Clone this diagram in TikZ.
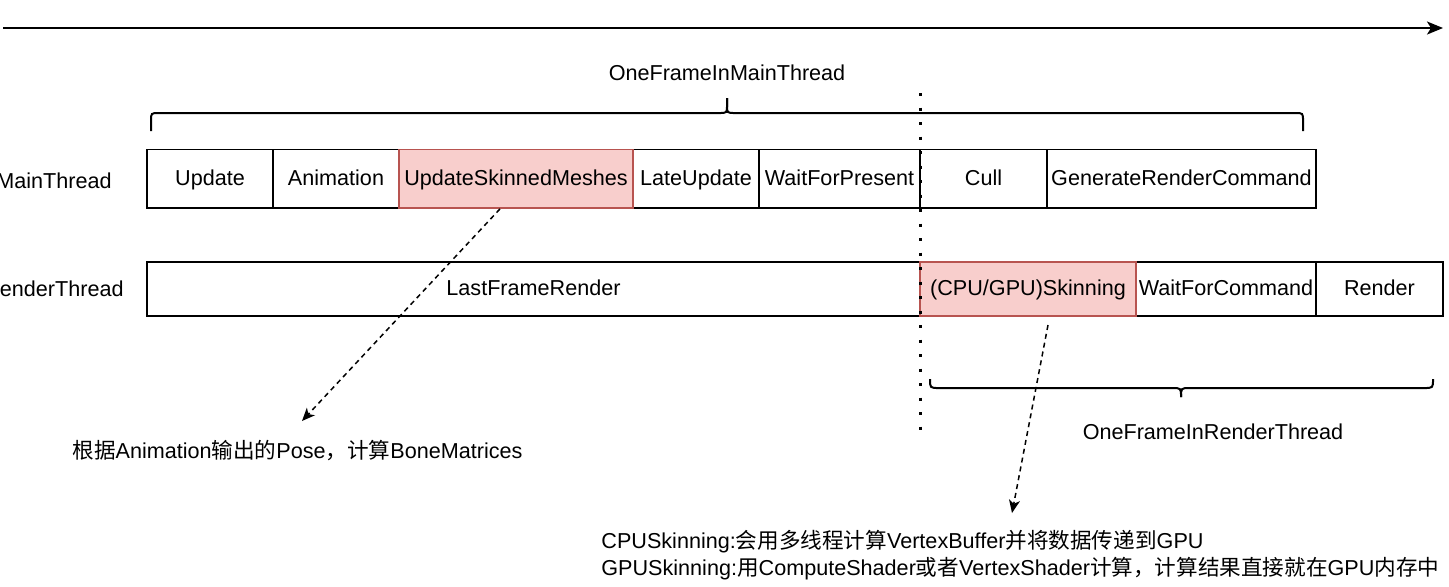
\documentclass[tikz,border=0pt]{standalone}
\usepackage{fontspec}
\setmainfont{Liberation Sans}
\newfontfamily\cjk{Noto Sans CJK SC}
\usetikzlibrary{arrows.meta,calc}
\definecolor{hotfill}{HTML}{F8CECC}
\definecolor{hotline}{HTML}{B85450}
\begin{document}
\begin{tikzpicture}[x=0.5pt,y=-0.5pt,
  font=\fontsize{10.8pt}{13pt}\selectfont,
  box/.style={draw, line width=0.9pt, inner sep=0pt, text height=0.93em, text depth=0.25em, minimum height=29.25pt},
  rbox/.style={box, text height=0.85em, minimum height=27pt},
  hot/.style={fill=hotfill, draw=hotline},
  lbl/.style={inner sep=0pt},
  brace/.style={line width=1pt},
  timearrow/.style={line width=1pt, -{Stealth[length=8pt,width=6.5pt,inset=2pt]}},
  dasharrow/.style={line width=0.75pt, dash pattern=on 2.5pt off 2pt, -{Stealth[length=6.5pt,width=5.5pt,inset=1.8pt]}},
  divider/.style={line width=1.5pt, dash pattern=on 1.5pt off 5.75pt}]
\useasboundingbox (0,0) rectangle (1449,586);

% time axis
\coordinate (tstart) at (3,28);
\coordinate (tend) at (1443,28);
\draw[timearrow] (tstart) -- (tend);

% top brace and label
\draw[brace] (727,98) -- (727,105) .. controls (727,113) .. (719,113) -- (159,113) .. controls (151,113) .. (151,121) -- (151,131);
\draw[brace] (727,98) -- (727,105) .. controls (727,113) .. (735,113) -- (1295,113) .. controls (1303,113) .. (1303,121) -- (1303,131);
\node[lbl, anchor=base] (mainlbl) at (727,80) {OneFrameInMainThread};

% thread labels (cut at the left edge, as in the reference)
\node[lbl, anchor=base east] (mt) at (112,188) {MainThread};
\node[lbl, anchor=base east] (rt) at (124,296) {RenderThread};

% main thread row
\node[box, minimum width=63pt] (upd) at (210,178.75) {Update};
\node[box, minimum width=63pt] (anim) at (336,178.75) {Animation};
\node[box, minimum width=63pt] (late) at (696,178.75) {LateUpdate};
\node[box, minimum width=80.5pt] (wfp) at (839.5,178.75) {WaitForPresent};
\node[box, minimum width=63.5pt] (cull) at (983.5,178.75) {Cull};
\node[box, minimum width=134.5pt] (grc) at (1181.5,178.75) {GenerateRenderCommand};
\node[box, hot, minimum width=117pt] (usm) at (516,178.75) {UpdateSkinnedMeshes};

% render thread row
\node[rbox, minimum width=386.5pt] (lfr) at (533.5,289) {LastFrameRender};
\node[rbox, minimum width=90pt] (wfc) at (1226,289) {WaitForCommand};
\node[rbox, minimum width=63.5pt] (rend) at (1379.5,289) {Render};
\node[rbox, hot, minimum width=108pt] (skin) at (1028,289) {(CPU/GPU)Skinning};

% bottom brace and label
\draw[brace] (1181,397) .. controls (1181,388) .. (1172,388) -- (939,388) .. controls (930,388) .. (930,379);
\draw[brace] (1181,397) .. controls (1181,388) .. (1190,388) -- (1424,388) .. controls (1433,388) .. (1433,379);
\node[lbl, anchor=base] (renderlbl) at (1213,439) {OneFrameInRenderThread};

% frame divider
\coordinate (dtop) at (920,93);
\coordinate (dbot) at (920,440);
\draw[divider] (dtop) -- (dbot);

% notes
\node[lbl, anchor=base west] (note1) at (72,458) {{\cjk 根据}Animation{\cjk 输出的}Pose{\cjk ，计算}BoneMatrices};
\node[lbl, anchor=base west] (note2) at (601,548) {CPUSkinning:{\cjk 会用多线程计算}VertexBuffer{\cjk 并将数据传递到}GPU};
\node[lbl, anchor=base west] (note3) at (601,575) {GPUSkinning:{\cjk 用}ComputeShader{\cjk 或者}VertexShader{\cjk 计算，计算结果直接就在}GPU{\cjk 内存中}};

% dashed arrows
\coordinate (usmout) at ($(usm.south west)!0.432!(usm.south east)$);
\coordinate (tip1) at (302,421);
\draw[dasharrow] (usmout) -- (tip1);
\coordinate (skinout) at (1048,325);
\coordinate (tip2) at (1012,513);
\draw[dasharrow] (skinout) -- (tip2);
\end{tikzpicture}
\end{document}
